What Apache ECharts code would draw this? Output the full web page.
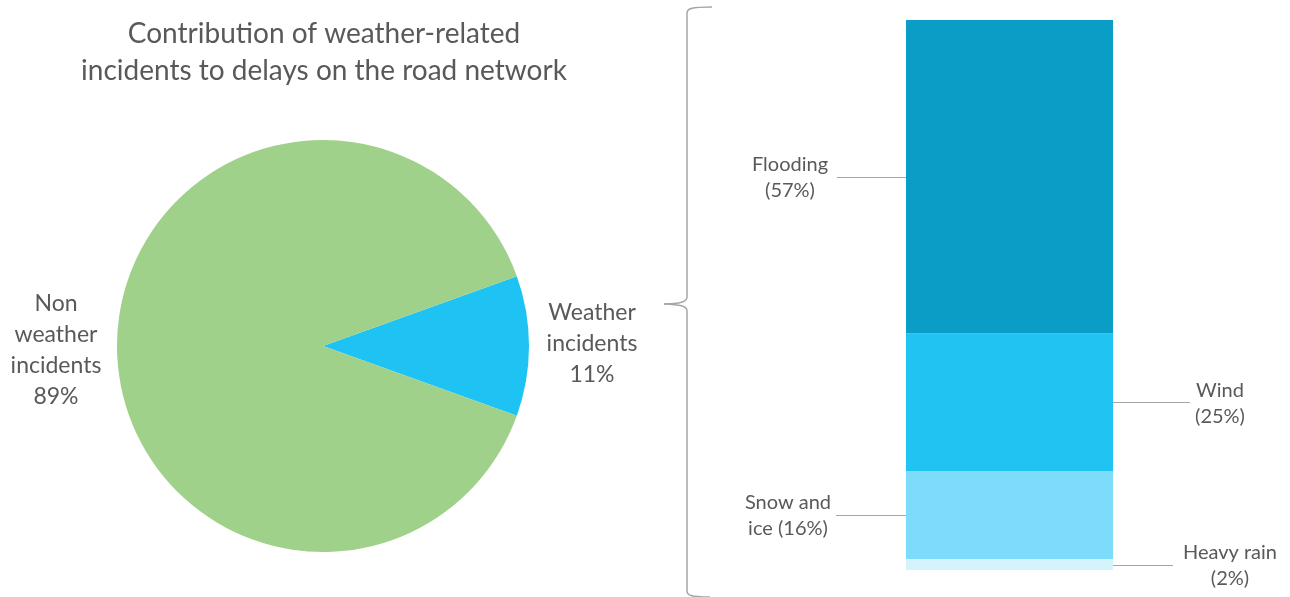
<!DOCTYPE html>
<html>
<head>
<meta charset="utf-8">
<script src="https://cdn.jsdelivr.net/npm/echarts@6/dist/echarts.min.js"></script>
<style>
  html, body { margin: 0; padding: 0; background: #ffffff; }
  #chart { width: 1290px; height: 597px; }
</style>
</head>
<body>
<div id="chart"></div>
<script>
// Share of delays on the road network by incident type
const pieNames = ['Weather\nincidents', 'Non\nweather\nincidents'];
const pieValues = [11, 89];
const pieColors = ['#1FC3F3', '#A0D18A'];

// Breakdown of weather incidents (stacked bottom to top)
const causeNames = ['Heavy rain', 'Snow and ice', 'Wind', 'Flooding'];
const causeValues = [2, 16, 25, 57];
const causeColors = ['#D4F3FC', '#7CDCF9', '#21C3F3', '#0A9DC6'];
const causeSides = ['right', 'left', 'right', 'left'];
const causeLabelText = ['Heavy rain\n(2%)', 'Snow and\nice (16%)', 'Wind\n(25%)', 'Flooding\n(57%)'];
const causeLabelGap = [117, 118, 107, 116];
const causeLineLen = [60, 70, 77, 69];

const FONT = 'Lato, "Open Sans", sans-serif';
const TEXT = '#595959';
const LINE = '#A6A6A6';

const chart = echarts.init(document.getElementById('chart'), null, { renderer: 'canvas' });

const barSeries = causeNames.map((name, i) => ({
  name: name,
  type: 'bar',
  stack: 'weather',
  barWidth: '100%',
  data: [causeValues[i]],
  itemStyle: { color: causeColors[i] },
  silent: true,
  label: {
    show: true,
    position: causeSides[i],
    distance: causeLabelGap[i],
    align: 'center',
    offset: [0, 1],
    formatter: () => causeLabelText[i],
    fontFamily: FONT,
    fontSize: 20,
    lineHeight: 26,
    color: TEXT
  }
}));

const option = {
  animation: false,
  backgroundColor: '#ffffff',
  title: {
    text: 'Contribution of weather-related\nincidents to delays on the road network',
    left: 319,
    top: 10,
    textAlign: 'center',
    textStyle: {
      fontFamily: FONT,
      fontSize: 28,
      fontWeight: 'normal',
      lineHeight: 37,
      color: TEXT
    }
  },
  grid: { left: 906, width: 207, top: 20, height: 550 },
  xAxis: { type: 'category', data: ['Weather'], show: false },
  yAxis: { type: 'value', min: 0, max: 100, show: false },
  series: [
    {
      type: 'pie',
      center: [323, 346],
      radius: 206,
      startAngle: 360 * pieValues[0] / 200,
      clockwise: true,
      silent: true,
      data: pieNames.map((n, i) => ({
        name: n,
        value: pieValues[i],
        itemStyle: { color: pieColors[i] }
      })),
      label: {
        show: true,
        position: 'outside',
        overflow: 'none',
        formatter: p => p.name + '\n' + p.value + '%',
        fontFamily: FONT,
        fontSize: 23,
        lineHeight: 31,
        color: TEXT,
        align: 'center'
      },
      labelLine: { show: false },
      labelLayout: p => (p.dataIndex === 0
        ? { x: 592, y: 344, align: 'center', verticalAlign: 'middle' }
        : { x: 56, y: 350, align: 'center', verticalAlign: 'middle' })
    }
  ].concat(barSeries)
};

chart.setOption(option);

// Leader lines from the edge of each stacked segment, plus the brace
const grid = chart.getModel().getComponent('grid').coordinateSystem.getRect();
const graphics = [];
let cum = 0;
causeValues.forEach((v, i) => {
  const mid = chart.convertToPixel({ gridIndex: 0 }, [0, cum + v / 2])[1];
  cum += v;
  const x0 = causeSides[i] === 'left' ? grid.x : grid.x + grid.width;
  const x1 = causeSides[i] === 'left' ? x0 - causeLineLen[i] : x0 + causeLineLen[i];
  graphics.push({
    type: 'line',
    shape: { x1: x0, y1: Math.round(mid) + 0.5, x2: x1, y2: Math.round(mid) + 0.5 },
    style: { stroke: LINE, lineWidth: 1 },
    silent: true
  });
});

// Curly brace: straight runs joined by short curves
const braceStyle = { stroke: LINE, lineWidth: 1.5, fill: null };
const braceLines = [
  [687, 13, 687, 297],
  [687, 311, 687, 591]
];
const braceCurves = [
  [712, 7, 690, 7, 687, 9, 687, 13],
  [687, 297, 687, 302, 680, 303.5, 664, 304],
  [664, 304, 680, 304.5, 687, 306, 687, 311],
  [687, 591, 687, 595, 690, 597, 710, 597]
];
braceLines.forEach(s => graphics.push({
  type: 'line', silent: true, style: braceStyle,
  shape: { x1: s[0], y1: s[1], x2: s[2], y2: s[3] }
}));
braceCurves.forEach(s => graphics.push({
  type: 'bezierCurve', silent: true, style: braceStyle,
  shape: { x1: s[0], y1: s[1], cpx1: s[2], cpy1: s[3], cpx2: s[4], cpy2: s[5], x2: s[6], y2: s[7] }
}));

chart.setOption({ graphic: graphics });
</script>
</body>
</html>
